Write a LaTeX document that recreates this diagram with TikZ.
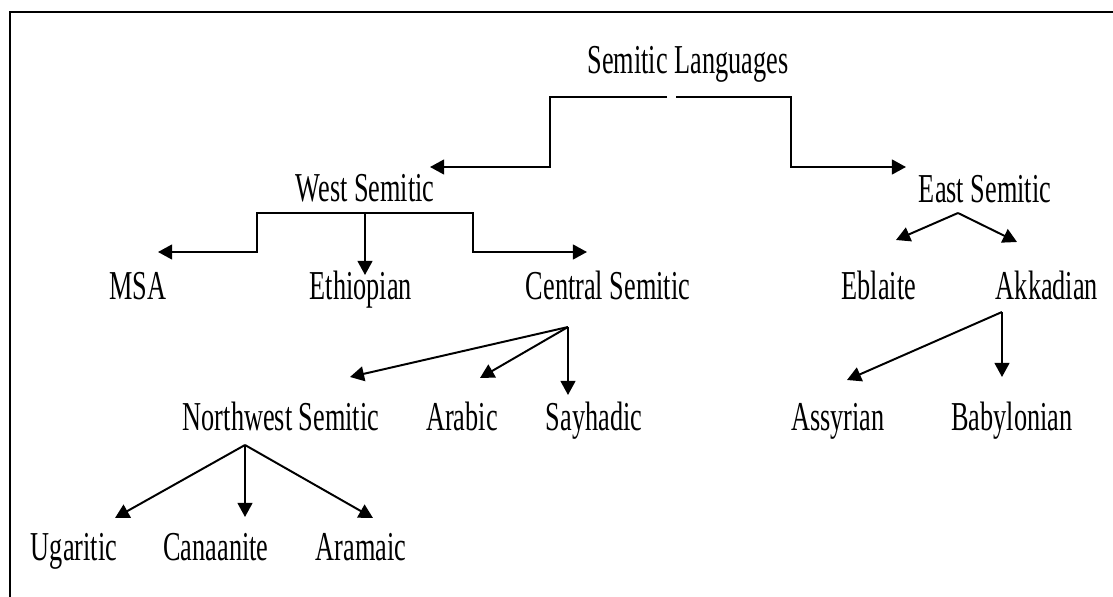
\documentclass[tikz,border=0pt]{standalone}
\usepackage{fontspec}
\setmainfont[FakeStretch=0.64]{Liberation Serif}
\usetikzlibrary{arrows.meta}

\tikzset{
  lang/.style={anchor=base, inner sep=0pt, font=\fontsize{29.2}{34}\selectfont},
  arr/.style={-{Triangle[length=10pt,width=10.5pt]}},
}

\begin{document}
\begin{tikzpicture}[x=0.025cm, y=-0.025cm, line width=1.4pt]
  \useasboundingbox (0,0) rectangle (1113,597);
  \draw (1113,12) -- (10,12) -- (10,597);

  % languages
  \node[lang] at (688,74) (semitic) {Semitic Languages};
  \node[lang] at (365,202) (west) {West Semitic};
  \node[lang] at (985,203) (east) {East Semitic};
  \node[lang] at (138,300) (msa) {MSA};
  \node[lang] at (361,300) (ethiopian) {Ethiopian};
  \node[lang] at (608,300) (central) {Central Semitic};
  \node[lang] at (879,300) (eblaite) {Eblaite};
  \node[lang] at (1047,300) (akkadian) {Akkadian};
  \node[lang] at (281,430) (northwest) {Northwest Semitic};
  \node[lang] at (462,430) (arabic) {Arabic};
  \node[lang] at (594,430) (sayhadic) {Sayhadic};
  \node[lang] at (838,430) (assyrian) {Assyrian};
  \node[lang] at (1012,430) (babylonian) {Babylonian};
  \node[lang] at (74,560) (ugaritic) {Ugaritic};
  \node[lang] at (216,560) (canaanite) {Canaanite};
  \node[lang] at (361,560) (aramaic) {Aramaic};

  % branch points and arrow ends
  \coordinate (semitic-l) at (667,97);
  \coordinate (semitic-r) at (676,97);
  \coordinate (west-in) at (430,167);
  \coordinate (east-in) at (906,167);
  \coordinate (west-out) at (365,213);
  \coordinate (msa-in) at (158,252);
  \coordinate (ethiopian-in) at (365,275);
  \coordinate (central-in) at (587,252);
  \coordinate (east-out) at (958,213);
  \coordinate (eblaite-in) at (896,240);
  \coordinate (akkadian-in) at (1017,242);
  \coordinate (central-out) at (568,327);
  \coordinate (northwest-in) at (350,377);
  \coordinate (arabic-in) at (480,378);
  \coordinate (sayhadic-in) at (568,395);
  \coordinate (akkadian-out) at (1002,312);
  \coordinate (assyrian-in) at (847,380);
  \coordinate (babylonian-in) at (1002,377);
  \coordinate (northwest-out) at (245,445);
  \coordinate (ugaritic-in) at (115,518);
  \coordinate (canaanite-in) at (245,517);
  \coordinate (aramaic-in) at (373,518);

  \draw[arr] (semitic-l) -- ++(-117,0) -- ++(0,70) -- (west-in);
  \draw[arr] (semitic-r) -- ++(115,0) -- ++(0,70) -- (east-in);

  \draw[arr] (west-out) -- ++(-108,0) -- ++(0,39) -- (msa-in);
  \draw[arr] (west-out) -- (ethiopian-in);
  \draw[arr] (west-out) -- ++(108,0) -- ++(0,39) -- (central-in);

  \draw[arr] (east-out) -- (eblaite-in);
  \draw[arr] (east-out) -- (akkadian-in);

  \draw[arr] (central-out) -- (northwest-in);
  \draw[arr] (central-out) -- (arabic-in);
  \draw[arr] (central-out) -- (sayhadic-in);

  \draw[arr] (akkadian-out) -- (assyrian-in);
  \draw[arr] (akkadian-out) -- (babylonian-in);

  \draw[arr] (northwest-out) -- (ugaritic-in);
  \draw[arr] (northwest-out) -- (canaanite-in);
  \draw[arr] (northwest-out) -- (aramaic-in);
\end{tikzpicture}
\end{document}
